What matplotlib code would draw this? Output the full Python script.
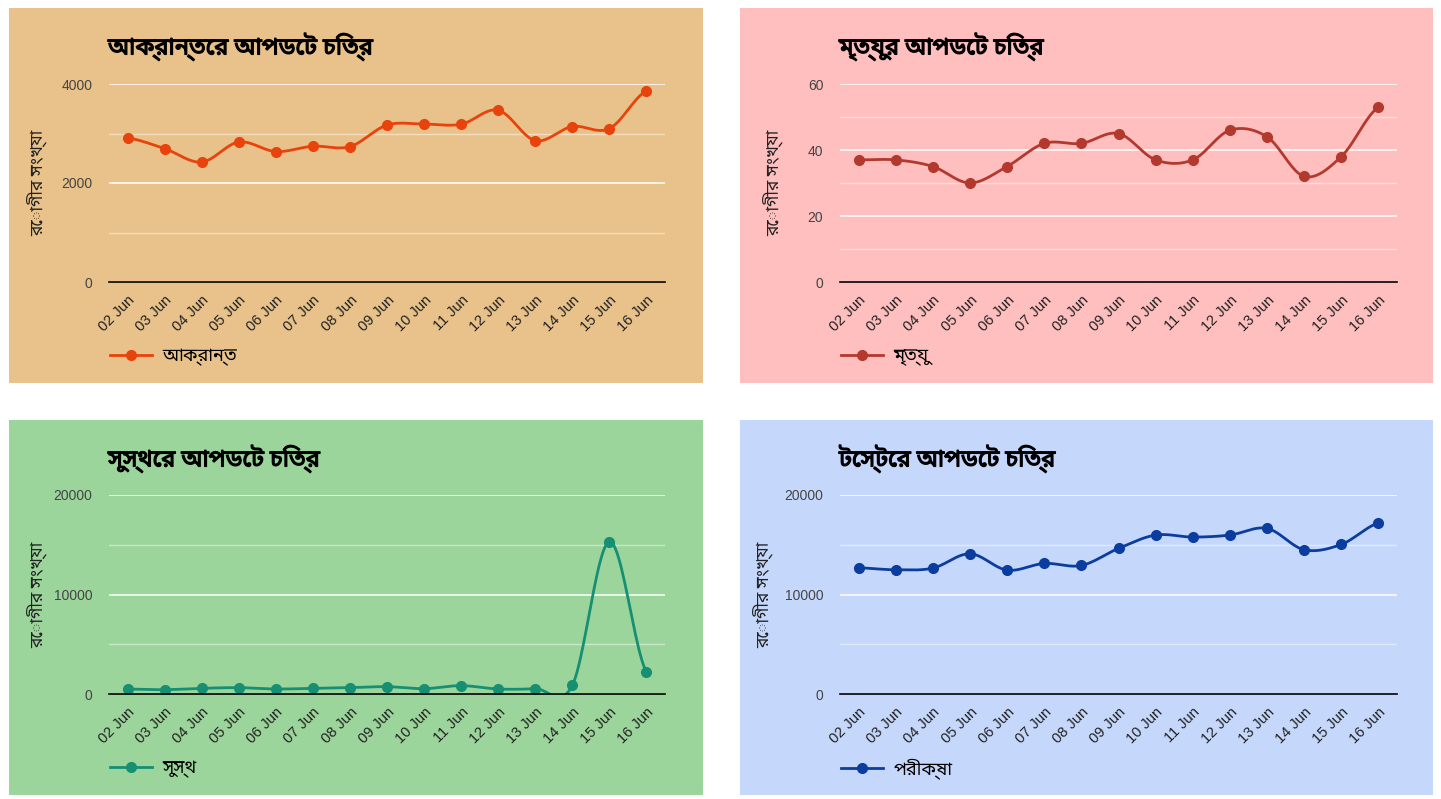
import numpy as np
import matplotlib
matplotlib.use("Agg")
import matplotlib.pyplot as plt
import matplotlib.patheffects as pe
from matplotlib.patches import Rectangle
from matplotlib.lines import Line2D

plt.rcParams['font.family'] = ['Liberation Sans', 'Noto Sans Bengali', 'DejaVu Sans']

dates = ['02 Jun', '03 Jun', '04 Jun', '05 Jun', '06 Jun', '07 Jun', '08 Jun', '09 Jun',
         '10 Jun', '11 Jun', '12 Jun', '13 Jun', '14 Jun', '15 Jun', '16 Jun']

infected = [2911, 2695, 2423, 2828, 2635, 2743, 2735, 3171, 3190, 3187, 3471, 2856, 3141, 3099, 3862]
deaths = [37, 37, 35, 30, 35, 42, 42, 45, 37, 37, 46, 44, 32, 38, 53]
recovered = [500, 436, 570, 638, 503, 570, 638, 738, 537, 839, 503, 537, 872, 15300, 2215]
tests = [12685, 12483, 12651, 14094, 12450, 13121, 12919, 14631, 15973, 15772, 15973, 16644, 14497, 15034, 17181]

titles = ['আক্রান্তের আপডেট চিত্র', 'মৃত্যুর আপডেট চিত্র', 'সুস্থের আপডেট চিত্র', 'টেস্টের আপডেট চিত্র']
series_names = ['আক্রান্ত', 'মৃত্যু', 'সুস্থ', 'পরীক্ষা']
ylabel = 'রোগীর সংখ্যা'

bn = ['Noto Sans Bengali', 'DejaVu Sans']

W, H = 1441, 799
fig = plt.figure(figsize=(W / 100, H / 100), dpi=100)
fig.patch.set_facecolor('white')


def px(x0, y0, x1, y1):
    # pixel box (top-left origin) -> figure fraction rect
    return [x0 / W, (H - y1) / H, (x1 - x0) / W, (y1 - y0) / H]


def catmull(y, n=24):
    y = np.asarray(y, dtype=float)
    xs, ys = [], []
    for i in range(len(y) - 1):
        p0 = y[i - 1] if i > 0 else y[i]
        p3 = y[i + 2] if i + 2 < len(y) else y[i + 1]
        m1 = (y[i + 1] - p0) / 2
        m2 = (p3 - y[i]) / 2
        t = np.linspace(0, 1, n, endpoint=False)
        h00 = 2 * t**3 - 3 * t**2 + 1
        h10 = t**3 - 2 * t**2 + t
        h01 = -2 * t**3 + 3 * t**2
        h11 = t**3 - t**2
        xs.append(i + t)
        ys.append(h00 * y[i] + h10 * m1 + h01 * y[i + 1] + h11 * m2)
    xs.append([len(y) - 1])
    ys.append([y[-1]])
    return np.concatenate(xs), np.concatenate(ys)


panels = [
    # data, title, name, bg, line colour, panel box, plot box, ylim, major, minor, ylabel x
    (infected, titles[0], series_names[0], '#e8c28a', '#e8430d',
     (9, 8, 703, 383), (109, 84, 665, 282), 4000, [0, 2000, 4000], [1000, 3000], 37),
    (deaths, titles[1], series_names[1], '#ffbfbf', '#b3392f',
     (740, 8, 1433, 383), (840, 84, 1397, 282), 60, [0, 20, 40, 60], [10, 30, 50], 773),
    (recovered, titles[2], series_names[2], '#9cd59b', '#168f73',
     (9, 420, 703, 795), (109, 495, 665, 694), 20000, [0, 10000, 20000], [5000, 15000], 37),
    (tests, titles[3], series_names[3], '#c5d8fc', '#0b3d9f',
     (740, 420, 1433, 795), (840, 495, 1397, 694), 20000, [0, 10000, 20000], [5000, 15000], 763),
]

for data, title, name, bg, col, pbox, abox, ymax, major, minor, ylx in panels:
    fig.patches.append(Rectangle((pbox[0] / W, (H - pbox[3]) / H),
                                 (pbox[2] - pbox[0]) / W, (pbox[3] - pbox[1]) / H,
                                 transform=fig.transFigure, facecolor=bg, edgecolor='none', zorder=-5))
    ax = fig.add_axes(px(*abox))
    ax.set_facecolor('none')
    x = np.arange(len(dates))
    sx, sy = catmull(data)
    ax.plot(sx, sy, color=col, lw=2, zorder=3)
    ax.plot(x, data, 'o', color=col, ms=7, zorder=4)
    ax.set_xlim(-0.5, len(dates) - 0.5)
    ax.set_ylim(0, ymax)
    ax.set_yticks(major)
    ax.set_yticks(minor, minor=True)
    ax.set_yticklabels([str(v) for v in major])
    ax.set_xticks(x)
    ax.set_xticklabels(dates, rotation=45, ha='right', rotation_mode='anchor')
    ax.grid(axis='y', which='major', color='white', lw=1.1, zorder=1)
    ax.grid(axis='y', which='minor', color='white', lw=1, alpha=0.45, zorder=1)
    ax.tick_params(axis='both', which='both', length=0)
    ax.tick_params(axis='y', labelsize=10, labelcolor='#444444', pad=12)
    ax.tick_params(axis='x', labelsize=10.5, labelcolor='#222222', pad=8)
    for s in ['top', 'right', 'left']:
        ax.spines[s].set_visible(False)
    ax.spines['bottom'].set_color('black')
    ax.spines['bottom'].set_linewidth(1.2)
    ax.spines['bottom'].set_zorder(5)

    fig.text((abox[0] - 1) / W, (H - (pbox[1] + 39)) / H, title, family=bn,
             fontsize=17, fontweight='bold', color='black', va='center', ha='left',
             path_effects=[pe.withStroke(linewidth=0.9, foreground='black')])
    fig.text(ylx / W, (H - (abox[1] + abox[3]) / 2) / H, ylabel, family=bn,
             rotation=90, fontsize=12.5, color='#222222', va='center', ha='center')
    handle = Line2D([], [], color=col, lw=2, marker='o', ms=7)
    ax.legend([handle], [name], loc='center left', frameon=False,
              prop={'family': bn, 'size': 13},
              bbox_to_anchor=((abox[0] - 15) / W, (H - (pbox[1] + 349)) / H),
              bbox_transform=fig.transFigure, handlelength=2.3, handletextpad=0.6)

fig.savefig('out.png', dpi=100, facecolor='white')
